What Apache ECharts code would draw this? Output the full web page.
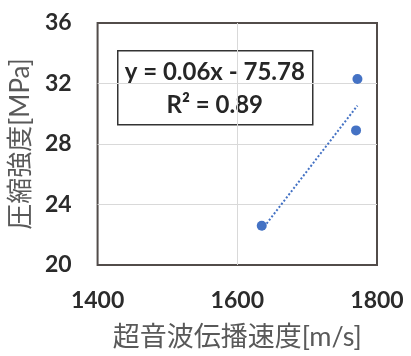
<!DOCTYPE html>
<html>
<head>
<meta charset="utf-8">
<script src="https://cdn.jsdelivr.net/npm/echarts@6/dist/echarts.min.js"></script>
<style>
  html, body { margin: 0; padding: 0; background: #fff; }
  #chart { width: 411px; height: 356px; }
</style>
</head>
<body>
<div id="chart"></div>
<script>
// Ultrasonic pulse velocity vs. compressive strength
const velocity = [1635, 1772, 1770];          // m/s
const strength = [22.6, 32.3, 28.9];          // MPa
const xTicks = [1400, 1600, 1800];
const yTicks = [20, 24, 28, 32, 36];
const slope = 0.06;
const intercept = -75.78;
const r2 = 0.89;

const LATIN = 'Lato, "Noto Sans CJK JP", sans-serif';

const points = velocity.map((v, i) => [v, strength[i]]);
const xMin = Math.min(...velocity);
const xMax = Math.max(...velocity);
const trend = [[xMin, slope * xMin + intercept], [xMax, slope * xMax + intercept]];

const chart = echarts.init(document.getElementById('chart'), null, { renderer: 'canvas' });
chart.setOption({
  animation: false,
  grid: {
    left: 97, right: 34, top: 23, bottom: 90,
    show: true, borderColor: '#524c4a', borderWidth: 2, backgroundColor: 'transparent'
  },
  xAxis: {
    type: 'value',
    min: xTicks[0], max: xTicks[xTicks.length - 1], interval: xTicks[1] - xTicks[0],
    name: '超音波伝播速度[m/s]',
    nameLocation: 'middle', nameGap: 59,
    nameTextStyle: { color: '#595959', fontSize: 27, fontFamily: LATIN },
    axisLine: { show: false }, axisTick: { show: false },
    axisLabel: { color: '#2b2b2b', fontSize: 23, fontWeight: 'bold', fontFamily: LATIN, margin: 24,
                 formatter: v => String(v) },
    splitLine: { show: true, showMinLine: false, showMaxLine: false, lineStyle: { color: '#d9d9d9', width: 1 } }
  },
  yAxis: {
    type: 'value',
    min: yTicks[0], max: yTicks[yTicks.length - 1], interval: yTicks[1] - yTicks[0],
    name: '圧縮強度[MPa]',
    nameLocation: 'middle', nameGap: 59, nameRotate: 90,
    nameTextStyle: { color: '#595959', fontSize: 26, fontFamily: LATIN },
    axisLine: { show: false }, axisTick: { show: false },
    axisLabel: { color: '#2b2b2b', fontSize: 23, fontWeight: 'bold', fontFamily: LATIN, margin: 26 },
    splitLine: { show: true, showMinLine: false, showMaxLine: false, lineStyle: { color: '#d9d9d9', width: 1 } }
  },
  series: [
    {
      type: 'line',
      data: trend,
      symbol: 'none',
      lineStyle: { color: '#4472c4', width: 2, type: [2, 2] },
      z: 2
    },
    {
      type: 'scatter',
      data: points,
      symbol: 'circle',
      symbolSize: 10,
      itemStyle: { color: '#4472c4', opacity: 1 },
      z: 3
    }
  ],
  graphic: [
    {
      type: 'group',
      left: 117, top: 50,
      children: [
        { type: 'rect', shape: { x: 0, y: 0, width: 195, height: 74 },
          style: { fill: '#fff', stroke: '#333', lineWidth: 1.5 } },
        { type: 'text', x: 97, y: 22,
          style: { text: 'y = ' + slope.toFixed(2) + 'x - ' + Math.abs(intercept).toFixed(2),
                   font: 'bold 24px ' + LATIN, fill: '#262626', textAlign: 'center', textVerticalAlign: 'middle' } },
        { type: 'text', x: 97, y: 55,
          style: { text: 'R² = ' + r2.toFixed(2),
                   font: 'bold 24px ' + LATIN, fill: '#262626', textAlign: 'center', textVerticalAlign: 'middle' } }
      ]
    }
  ]
});
</script>
</body>
</html>
